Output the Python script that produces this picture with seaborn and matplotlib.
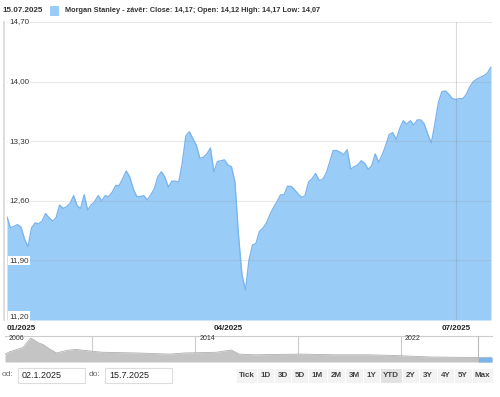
import pandas as pd
import matplotlib.pyplot as plt
import matplotlib.transforms as mtransforms
from matplotlib.patches import Rectangle
import seaborn as sns

# denni zaviraci ceny (obchodni dny 02.01.2025 - 15.07.2025)
close_values = [
    12.41, 12.28, 12.30, 12.32, 12.29, 12.15, 12.06, 12.28, 12.34, 12.33,
    12.36, 12.45, 12.40, 12.36, 12.40, 12.55, 12.51, 12.53, 12.57, 12.66,
    12.54, 12.51, 12.67, 12.49, 12.55, 12.59, 12.66, 12.60, 12.66, 12.65,
    12.70, 12.78, 12.78, 12.86, 12.95, 12.88, 12.74, 12.65, 12.65, 12.66,
    12.61, 12.67, 12.74, 12.88, 12.94, 12.88, 12.76, 12.83, 12.83, 12.82,
    13.05, 13.36, 13.41, 13.33, 13.25, 13.10, 13.11, 13.15, 13.22, 12.94,
    13.06, 13.07, 13.08, 13.02, 13.00, 12.82, 12.20, 11.73, 11.55, 11.90,
    12.08, 12.10, 12.24, 12.28, 12.34, 12.44, 12.52, 12.59, 12.67, 12.67,
    12.77, 12.77, 12.73, 12.68, 12.64, 12.66, 12.82, 12.86, 12.92, 12.84,
    12.85, 12.92, 13.05, 13.19, 13.19, 13.17, 13.14, 13.20, 12.97, 13.00,
    13.02, 13.07, 13.04, 12.97, 13.01, 13.15, 13.05, 13.14, 13.25, 13.38,
    13.40, 13.32, 13.45, 13.54, 13.50, 13.54, 13.49, 13.55, 13.55, 13.50,
    13.38, 13.28, 13.50, 13.75, 13.88, 13.89, 13.85, 13.80, 13.79, 13.80,
    13.80, 13.85, 13.94, 14.00, 14.03, 14.05, 14.07, 14.10, 14.17,
]
y_ticks = [11.20, 11.90, 12.60, 13.30, 14.00, 14.70]
y_labels = ["11,20", "11,90", "12,60", "13,30", "14,00", "14,70"]

# navigator - dlouha historie
nav_years = [2006.6, 2006.8, 2007.3, 2007.6, 2007.9, 2008.1, 2008.3, 2008.6,
             2009.0, 2009.35, 2009.7, 2010.4, 2011.7, 2013.0, 2013.6, 2014.8,
             2015.4, 2015.7, 2016.3, 2018.1, 2019.4, 2020.7, 2021.9, 2023.2,
             2024.9, 2025.0, 2025.54]
nav_values = [15.5, 16.6, 18.4, 22.6, 20.5, 19.6, 18.0, 16.0,
              17.1, 17.6, 17.1, 16.3, 16.0, 15.5, 16.0, 16.3,
              17.3, 15.5, 15.2, 15.5, 15.2, 15.2, 14.8, 14.2,
              14.0, 14.0, 14.1]
nav_label_years = [2006, 2014, 2022]
nav_grid_years = [2010, 2014, 2018, 2022]

buttons = ["Tick", "1D", "3D", "5D", "1M", "2M", "3M", "1Y", "YTD", "2Y", "3Y", "4Y", "5Y", "Max"]
button_edges = [236, 257, 274, 291, 308, 327, 345, 363, 380, 402, 419, 437, 454, 472, 493]

BLUE = "#7CB5EC"
FILL = "#99CCF7"
W, H = 500, 397


def fx(px):
    return px / W


def fy(py):
    return 1 - py / H


def visualize():
    sns.set_style("white")
    plt.rcParams["font.family"] = ["Liberation Sans", "DejaVu Sans"]

    dates = pd.bdate_range("2025-01-02", "2025-07-15")
    df = pd.DataFrame({"date": dates, "close": close_values})
    df["idx"] = range(len(df))

    fig = plt.figure(figsize=(5, 3.97), dpi=100)

    # hlavni graf
    ax = fig.add_axes([fx(7), fy(320), fx(485), 298 / H])
    month_idx = df.groupby(df["date"].dt.to_period("M"))["idx"].min()
    month_starts = [i for p, i in month_idx.items() if p.month in (1, 4, 7)]

    ax.fill_between(df["idx"], df["close"], 11.2, color=FILL, lw=0, zorder=1)
    sns.lineplot(data=df, x="idx", y="close", ax=ax, color=BLUE, lw=1, zorder=2)
    # mrizka je videt i pres plochu
    for t in y_ticks:
        ax.axhline(t, color="#999999", lw=0.8, alpha=0.22, zorder=3)
    ax.axvline(month_starts[-1], color="#888888", lw=0.8, alpha=0.3, zorder=3)

    ax.set_xlim(0, len(df) - 1 + 0.3)
    ax.set_ylim(11.2, 14.7)
    ax.set_xticks([])
    ax.set_yticks([])
    ax.set_xlabel("")
    ax.set_ylabel("")
    for s in ["top", "right", "bottom"]:
        ax.spines[s].set_visible(False)
    ax.spines["left"].set_color("#d8d8d8")
    ax.spines["left"].set_linewidth(1.2)
    ax.spines["left"].set_position(("outward", 2))

    trans = mtransforms.blended_transform_factory(ax.transAxes, ax.transData)
    for t, lab in zip(y_ticks, y_labels):
        ax.text(0.004, t + (0.045 if t == 11.2 else 0), lab, transform=trans,
                ha="left", va="center", fontsize=5.8, color="#333333", zorder=5,
                bbox=dict(boxstyle="square,pad=0.15", fc="white", ec="none"))

    for k, i in enumerate(month_starts):
        lab = df["date"][i].strftime("%m/%Y")
        ax.text(i, 11.2 - 0.06, lab, ha="left" if k == 0 else "center", va="top",
                fontsize=5.8, fontweight="bold", color="#222222")

    # hlavicka
    fig.text(fx(2), fy(11), "15.07.2025", fontsize=5.8, fontweight="bold",
             color="#333333", va="center")
    fig.patches.append(Rectangle((fx(50), fy(16)), fx(9), 10 / H, transform=fig.transFigure,
                                 fc=FILL, ec="none"))
    fig.text(fx(65), fy(11), "Morgan Stanley - závěr: Close: 14,17; Open: 14,12 High: 14,17 Low: 14,07",
             fontsize=5.3, fontweight="bold", color="#333333", va="center")

    # navigator
    nav = fig.add_axes([fx(5), fy(362), fx(487), 26 / H])
    for y in nav_grid_years:
        nav.axvline(y, color="#cccccc", lw=0.8, zorder=0)
    nav.fill_between(nav_years, nav_values, 12, color="#c4c4c4", lw=0, zorder=1)
    sns.lineplot(x=nav_years, y=nav_values, ax=nav, color="#b0b0b0", lw=0.6, zorder=2)
    sel_y = [y for y in nav_years if y >= 2025.0]
    sel_v = nav_values[-len(sel_y):]
    nav.fill_between(sel_y, sel_v, 12, color=BLUE, lw=0, zorder=3)
    nav.axvline(2025.0, color="#bbbbbb", lw=0.8, zorder=4)
    nav.set_xlim(nav_years[0], nav_years[-1])
    nav.set_ylim(12, 23.5)
    nav.set_xticks([])
    nav.set_yticks([])
    for s in ["left", "right", "bottom"]:
        nav.spines[s].set_visible(False)
    nav.spines["top"].set_color("#cccccc")
    nav.spines["top"].set_linewidth(0.8)
    for y in nav_label_years:
        xpos = max(y, nav_years[0]) + 0.15
        nav.text(xpos, 22.2, str(y), fontsize=5, color="#333333", va="center", ha="left")

    # ovladani - datumy
    fig.text(fx(2), fy(375), "od:", fontsize=6, color="#666666", va="center")
    fig.text(fx(89), fy(375), "do:", fontsize=6, color="#666666", va="center")
    for x0, x1, txt in [(18, 85, "02.1.2025"), (105, 172, "15.7.2025")]:
        fig.patches.append(Rectangle((fx(x0), fy(383)), fx(x1 - x0), 15 / H,
                                     transform=fig.transFigure, fc="white", ec="#dddddd", lw=0.8))
        fig.text(fx(x0 + 4), fy(376), txt, fontsize=6.5, color="#222222", va="center")

    # tlacitka
    for k, b in enumerate(buttons):
        x0, x1 = button_edges[k], button_edges[k + 1]
        fc = "#e2e2e2" if b == "YTD" else "#f3f3f3"
        fig.patches.append(Rectangle((fx(x0), fy(383)), fx(x1 - x0), 15 / H,
                                     transform=fig.transFigure, fc=fc, ec="white", lw=0.8))
        fig.text(fx((x0 + x1) / 2), fy(375.5), b, fontsize=5.8, fontweight="bold",
                 color="#444444", ha="center", va="center")

    plt.savefig("out.png", dpi=100)


if __name__ == "__main__":
    visualize()
